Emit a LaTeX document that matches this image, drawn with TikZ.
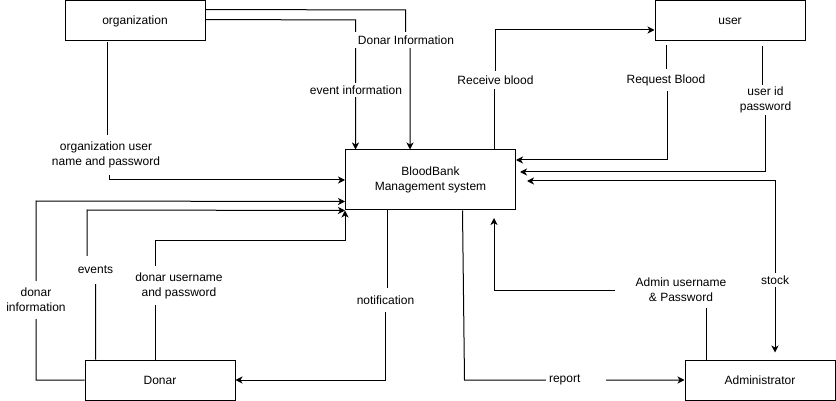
\documentclass[tikz,border=0pt]{standalone}
\usepackage{fontspec}
\setmainfont{Liberation Sans}
\usetikzlibrary{arrows.meta}
\begin{document}
\begin{tikzpicture}[x=1pt,y=-1pt,
  box/.style={draw,line width=1pt,fill=white,minimum width=#1,minimum height=40pt,inner sep=0pt,font=\fontsize{12}{15}\selectfont,align=center},
  flow/.style={line width=1pt,-{Stealth[length=7pt,width=7pt,inset=2pt]}},
  both/.style={line width=1pt,{Stealth[length=7pt,width=7pt,inset=2pt]}-{Stealth[length=7pt,width=7pt,inset=2pt]}},
  lbl/.style={fill=white,inner xsep=3pt,inner ysep=#1,font=\fontsize{12}{15}\selectfont,align=center},
  lbl/.default=4pt]
\useasboundingbox (0,0) rectangle (836,401);
% boxes
\node[box=140pt] (org) at (135,21) {organization};
\node[box=150pt] (user) at (730,21) {user};
\node[box=170pt,minimum height=60pt] (bb) at (430.5,180) {BloodBank\\Management system};
\node[box=150pt] (donar) at (160,380) {Donar};
\node[box=150pt] (admin) at (760,380) {Administrator};
% connectors
\draw[flow] ([yshift=-9pt]org.north east) -- (405.5,10) -- (405.5,40) -- (410,40) -- ([xshift=-20.5pt]bb.north);
\draw[flow] ([yshift=-19pt]org.north east) -- (355.5,20) -- ([xshift=10.5pt]bb.north west);
\draw[flow] ([xshift=-28pt,yshift=-1pt]org.south) -- (107,155) -- (109,155) |- (bb.west);
\draw[flow] (donar.west) -| (36,201) -- ([yshift=-21.5pt]bb.west);
\draw[flow] ([xshift=-64.5pt]donar.north) -- (95.5,270) -- (87,270) -- (87,210) -- (bb.south west);
\draw[flow] ([xshift=-5pt]donar.north) -- (155,240.5) -| (bb.south west);
\draw[flow] ([xshift=-43pt]bb.south) -- (387.5,300) -- (385.5,300) |- (donar.east);
\draw[flow] ([xshift=32pt]bb.south) -- (464.5,380) -- (admin.west);
\draw[flow] ([xshift=-54pt]admin.north) -- (706,290) -- (494,290) -- ([xshift=63.5pt,yshift=-7.5pt]bb.south);
\draw[both] ([xshift=11pt,yshift=-1pt]bb.east) -- (775,181) -- ([xshift=15pt,yshift=7pt]admin.north);
\draw[flow] ([xshift=32pt,yshift=-5pt]user.south) -- (762,100) -- (765.5,100) -- (765.5,172) -- ([xshift=4pt,yshift=8pt]bb.east);
\draw[flow] ([xshift=-64pt,yshift=-4pt]user.south) -- (666,80) -- (667,80) -- (667,160) -- ([yshift=20pt]bb.east);
\draw[flow] ([xshift=64pt]bb.north) -- (494.5,80) -- (495.5,80) -- (495.5,30) -- ([yshift=-9pt]user.west);
% labels
\node[lbl=4pt] (l1) at (406,40) {Donar Information};
\node[lbl=3pt] (l2) at (356,90) {event information};
\node[lbl=7pt] (l3) at (106,155) {organization user\\name and password};
\node[lbl=7pt] (l4) at (36,300) {donar\\information};
\node[lbl=10pt] (l5) at (95.5,270) {events};
\node[lbl=6pt] (l6) at (179,285.5) {donar username\\and password};
\node[lbl=8pt] (l7) at (385.5,300) {notification};
\node[lbl=2pt,text width=54pt,align=left] (l8) at (576,380) {report};
\node[lbl=6pt,inner xsep=21pt] (l9) at (681,290) {Admin username\\\& Password};
\node[lbl=3pt] (l10) at (775,280) {stock};
\node[lbl=2pt] (l11) at (765.5,100) {user id\\password};
\node[lbl=5pt] (l12) at (666,80) {Request Blood};
\node[lbl=5pt] (l13) at (495.5,80) {Receive blood};
\end{tikzpicture}
\end{document}
